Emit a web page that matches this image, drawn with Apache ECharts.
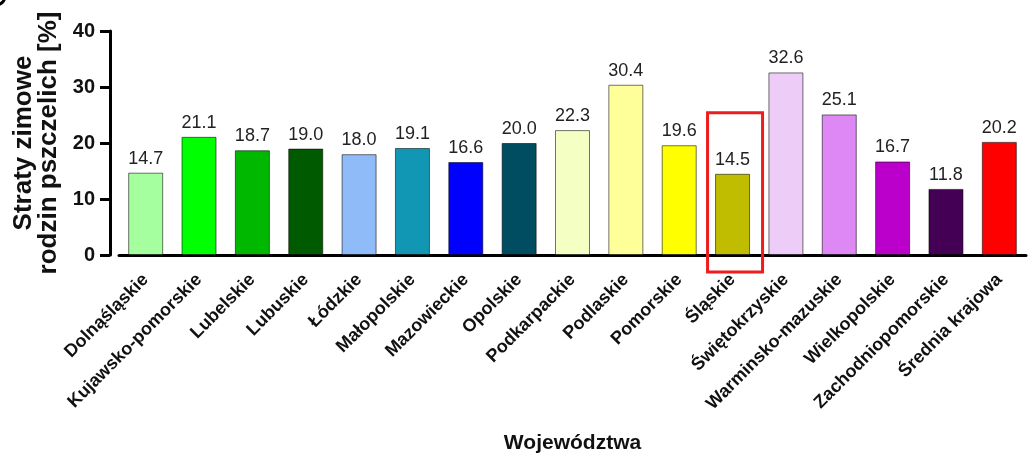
<!DOCTYPE html>
<html>
<head>
<meta charset="utf-8">
<script src="https://cdn.jsdelivr.net/npm/echarts@6/dist/echarts.min.js"></script>
<style>
html,body{margin:0;padding:0;background:#fff;}
#c{width:1028px;height:453px;}
</style>
</head>
<body>
<div id="c"></div>
<script>
const categories = ['Dolnąśląskie','Kujawsko-pomorskie','Lubelskie','Lubuskie','Łódzkie','Małopolskie','Mazowieckie','Opolskie','Podkarpackie','Podlaskie','Pomorskie','Śląskie','Świętokrzyskie','Warminsko-mazuskie','Wielkopolskie','Zachodniopomorskie','Średnia krajowa'];
const values = [14.7, 21.1, 18.7, 19.0, 18.0, 19.1, 16.6, 20.0, 22.3, 30.4, 19.6, 14.5, 32.6, 25.1, 16.7, 11.8, 20.2];
const colors = ['#a6ff9e','#00ff00','#00b800','#005a00','#8fbcf8','#1196b4','#0000ff','#004c60','#f4ffc4','#ffff99','#ffff00','#c0bc00','#eeccf8','#dd88f4','#bb00cc','#440055','#ff0000'];
const yTicks = [0, 10, 20, 30, 40];
const highlightCategory = 'Śląskie';
const highlightTopValue = 25.4;

const FONT = 'Liberation Sans, Arial, sans-serif';
const chart = echarts.init(document.getElementById('c'));
chart.setOption({
  animation: false,
  backgroundColor: '#fff',
  grid: { left: 119, right: 2, top: 31, bottom: 198, containLabel: false, outerBoundsMode: 'none' },
  xAxis: {
    type: 'category',
    data: categories,
    name: 'Województwa',
    nameLocation: 'middle',
    nameGap: 178,
    nameTextStyle: { fontFamily: FONT, fontWeight: 'bold', fontSize: 21, color: '#111' },
    axisLine: { lineStyle: { color: '#000', width: 3 } },
    axisTick: { alignWithLabel: true, length: 9, lineStyle: { color: '#000', width: 3 } },
    axisLabel: { rotate: 45, interval: 0, margin: 22, fontFamily: FONT, fontWeight: 'bold', fontSize: 18, color: '#111' }
  },
  yAxis: {
    type: 'value',
    min: yTicks[0],
    max: yTicks[yTicks.length - 1],
    interval: 10,
    offset: 9,
    name: 'Straty zimowe\nrodzin pszczelich [%]',
    nameLocation: 'middle',
    nameGap: 33,
    nameRotate: 90,
    nameTextStyle: { fontFamily: FONT, fontWeight: 'bold', fontSize: 26, color: '#111', lineHeight: 25 },
    splitLine: { show: false },
    axisLine: { show: true, lineStyle: { color: '#000', width: 3 } },
    axisTick: { show: true, length: 10, lineStyle: { color: '#000', width: 3 } },
    axisLabel: { fontFamily: FONT, fontWeight: 'bold', fontSize: 20, color: '#111', margin: 15 }
  },
  series: [{
    type: 'bar',
    data: values.map((v, i) => ({ value: v, itemStyle: { color: colors[i] } })),
    barWidth: 35,
    itemStyle: { borderColor: 'rgba(0,0,0,0.55)', borderWidth: 1 },
    label: { show: true, position: 'top', distance: 5, fontFamily: FONT, fontSize: 18, color: '#222',
      formatter: p => p.value.toFixed(1) }
  }]
});

const cx = chart.convertToPixel({ xAxisIndex: 0 }, highlightCategory);
const yTop = chart.convertToPixel({ yAxisIndex: 0 }, highlightTopValue);
const y0 = chart.convertToPixel({ yAxisIndex: 0 }, 0);
chart.setOption({
  graphic: [{
    type: 'rect',
    shape: { x: cx - 25, y: yTop, width: 55, height: (y0 - yTop) + 17 },
    style: { fill: 'none', stroke: '#ee1c1c', lineWidth: 3 },
    z: 100
  }, {
    type: 'circle',
    shape: { cx: -4, cy: -4, r: 9 },
    style: { fill: 'none', stroke: '#000', lineWidth: 3 }
  }]
});
</script>
</body>
</html>
